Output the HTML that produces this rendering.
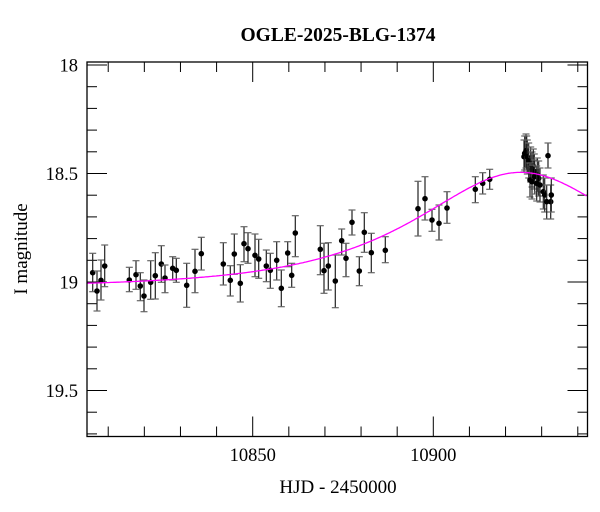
<!DOCTYPE html>
<html><head><meta charset="utf-8"><style>
html,body{margin:0;padding:0;background:#fff;}
svg{display:block;font-family:"Liberation Serif",serif;}
</style></head><body>
<svg id="s" width="600" height="512" viewBox="0 0 600 512" xmlns="http://www.w3.org/2000/svg">
<rect width="600" height="512" fill="#fff"/>
<text x="338" y="41" font-size="19.5" font-weight="bold" text-anchor="middle">OGLE-2025-BLG-1374</text>
<text x="338" y="493" font-size="19" text-anchor="middle">HJD - 2450000</text>
<text transform="translate(27,249) rotate(-90)" font-size="19" text-anchor="middle">I magnitude</text>
<g id="ax"></g>
<g id="pts"></g>
<path id="cv" fill="none" stroke="#ff00ff" stroke-width="1.3"/>
<rect x="87" y="62" width="500.5" height="374.5" fill="none" stroke="#000" stroke-width="1.3"/>
</svg>
<script>
var X=function(t){return 252.7+(t-10850)*3.612;};
var Y=function(m){return 65+(m-18)*217;};
var ax=document.getElementById('ax'),h='';
for(var t=10810;t<=10940;t+=10){var x=X(t),L=(t%50==0)?20:10;
h+='<line x1="'+x+'" y1="436.5" x2="'+x+'" y2="'+(436.5-L)+'" stroke="#000" stroke-width="1"/>';
h+='<line x1="'+x+'" y1="62" x2="'+x+'" y2="'+(62+L)+'" stroke="#000" stroke-width="1"/>';
if(t%50==0)h+='<text x="'+x+'" y="461" font-size="18.5" text-anchor="middle">'+t+'</text>';}
for(var i=0;i<=17;i++){var m=18+i*0.1,y=Y(m),L=(i%5==0)?20:10;
h+='<line x1="87" y1="'+y+'" x2="'+(87+L)+'" y2="'+y+'" stroke="#000" stroke-width="1"/>';
h+='<line x1="587.5" y1="'+y+'" x2="'+(587.5-L)+'" y2="'+y+'" stroke="#000" stroke-width="1"/>';
if(i%5==0&&i<=15){var lb=(i==0?'18':i==5?'18.5':i==10?'19':'19.5');h+='<text x="78" y="'+(y+6.5)+'" font-size="18.5" text-anchor="end">'+lb+'</text>';}}
ax.innerHTML=h;
var P=[[92.7,272.7,253.3,291.7],[97,291,271,311],[101,280.3,260,300],[104.7,266,245,286.7],[129.3,280,267.3,291.7],[136,274.7,260.7,289.3],[140.3,286,272.7,300.7],[144,296,280,311.7],[150.7,282.3,260.7,299.3],[155.3,275.7,252.7,299],[161.3,264,245.7,282.3],[165,278,265,292.7],[172.7,268.3,256.7,280],[176.3,270.3,258.3,282.3],[186.7,285.3,263.3,307.3],[195,271.3,249.3,292.7],[201.3,253.7,237.3,270],[223.3,264,242.7,285],[230.3,280.3,265.7,296],[234.3,254,234,274.3],[240.3,283.3,264.7,302],[244,243.7,226.7,261.7],[248,248.7,232.7,263.3],[255,255.3,234,276.7],[258.7,259,239.3,278.3],[266.3,266,250,281.7],[270.3,270.3,253.3,288.3],[276.7,260.3,241.7,280],[281.3,288.3,270,306.7],[287.7,253,241.7,266.7],[291.7,275.3,263.3,287.3],[295.3,233,215.7,256.7],[320.3,249.3,225.7,274.7],[324,270.7,243.3,293.3],[328.3,266,242.7,290],[335.3,281,255,307.7],[341.7,240.7,229,255],[346,258.3,243.3,276.7],[352,222.3,210,235],[359.3,271,256.7,285.7],[364.3,232.3,212.7,252.3],[371.3,252.7,233.3,272.7],[385.3,250.3,236.7,262.7],[418,208.7,181.3,236],[425,198.7,176.7,220],[432,220,209.3,231.3],[439,223.3,205,240],[447,208,191.7,223.3],[475.3,189.3,176.7,202.7],[482.7,183.3,172.7,194],[489.7,179.3,169.3,189.3],
[524,156.7,140,172],[524.7,153.3,136,170],[526,150.7,134,168],[526.7,152.7,136,170],[527.3,156.7,140,174],[528.7,160.7,143,178],[530.7,164.3,147,182],[532,169.3,152,187],[533.3,166,149,183],[534.3,171.3,154,189],[530,180,163,197],[532,181.7,165,199],[534.7,176.7,160,194],[537.3,175,158,192],[538.7,178.3,161,196],[536.7,183.3,166,201],[540,185,168,202],[543.3,191.7,175,209],[544.7,195,178,212],[546.7,201.7,185,219],[550.7,201.7,185,219],[551.3,195,178,212],[548,155.7,143,168]];
var g='';P.forEach(function(p){
g+='<line x1="'+p[0]+'" y1="'+p[2]+'" x2="'+p[0]+'" y2="'+p[3]+'" stroke="#222" stroke-width="1.2"/>';
g+='<line x1="'+(p[0]-3.5)+'" y1="'+p[2]+'" x2="'+(p[0]+3.5)+'" y2="'+p[2]+'" stroke="#666" stroke-width="1.2"/>';
g+='<line x1="'+(p[0]-3.5)+'" y1="'+p[3]+'" x2="'+(p[0]+3.5)+'" y2="'+p[3]+'" stroke="#666" stroke-width="1.2"/>';
g+='<circle cx="'+p[0]+'" cy="'+p[1]+'" r="2.8" fill="#000"/>';});
document.getElementById('pts').innerHTML=g;
var t0=10924.2,tE=42,u0=0.73,d='';
for(var x=87;x<=587.5;x+=1.5){var t=10850+(x-252.7)/3.612,uu=u0*u0+Math.pow((t-t0)/tE,2),u=Math.sqrt(uu);
var A=(uu+2)/(u*Math.sqrt(uu+4));var m=19.025-2.5*Math.log10(A);d+=(d?'L':'M')+x.toFixed(1)+','+Y(m).toFixed(1);}
document.getElementById('cv').setAttribute('d',d);
</script>
</body></html>
